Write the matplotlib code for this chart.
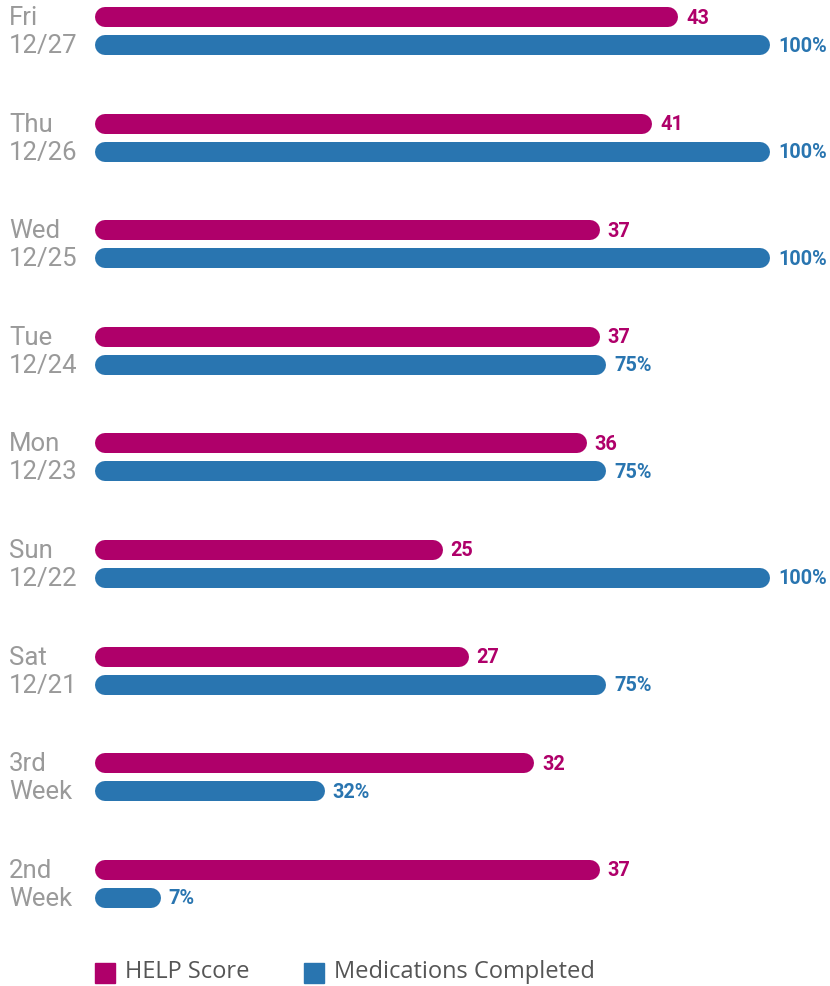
import matplotlib
matplotlib.use("Agg")
import matplotlib.pyplot as plt
from matplotlib.patches import Rectangle

days = ["Fri", "Thu", "Wed", "Tue", "Mon", "Sun", "Sat", "3rd", "2nd"]
dates = ["12/27", "12/26", "12/25", "12/24", "12/23", "12/22", "12/21", "Week", "Week"]
help_score = [43, 41, 37, 37, 36, 25, 27, 32, 37]
meds_pct = [100, 100, 100, 75, 75, 100, 75, 32, 7]
help_max = 50
series_names = ["HELP Score", "Medications Completed"]

MAGENTA = "#AF006A"
BLUE = "#2975B0"
GRAY = "#9A9A9A"

W, H, DPI = 830, 986, 100
fig = plt.figure(figsize=(W / DPI, H / DPI), dpi=DPI)
ax = fig.add_axes([0, 0, 1, 1])
ax.set_axis_off()

# x mapping: 0 -> px 105, 100 -> px 760
px0, scale = 105, 6.55
ax.set_xlim(-px0 / scale, (W - px0) / scale)
# y mapping: group i center -> px 31 + 106.6 i
g0, gstep = 31, 106.6
ax.set_ylim((H - g0) / gstep, -g0 / gstep)

lw_pt = 20 * 72 / DPI
off = 14 / gstep
cap_px = 10

for i in range(len(days)):
    hv = help_score[i] / help_max * 100
    mv = meds_pct[i]
    yh, ym = i - off, i + off
    ax.plot([0, hv], [yh, yh], color=MAGENTA, lw=lw_pt, solid_capstyle="round")
    ax.plot([0, mv], [ym, ym], color=BLUE, lw=lw_pt, solid_capstyle="round")
    ax.annotate(f"{help_score[i]}", xy=(hv, yh), xytext=(cap_px + 8, -1),
                textcoords="offset pixels", va="center", ha="left",
                color=MAGENTA, fontsize=14.3, fontweight="bold", family="Roboto")
    ax.annotate(f"{mv}%", xy=(mv, ym), xytext=(cap_px + 8, -1),
                textcoords="offset pixels", va="center", ha="left",
                color=BLUE, fontsize=14.3, fontweight="bold", family="Roboto")
    ax.annotate(days[i], xy=(-px0 / scale, yh), xytext=(9, -1),
                textcoords="offset pixels", va="center", ha="left",
                color=GRAY, fontsize=18.5, family="Roboto")
    ax.annotate(dates[i], xy=(-px0 / scale, ym), xytext=(9, -1),
                textcoords="offset pixels", va="center", ha="left",
                color=GRAY, fontsize=18.5, family="Roboto")

# legend
def fx(p):
    return p / W

def fy(p):
    return 1 - p / H

fig.patches.append(Rectangle((fx(95), fy(983)), 20 / W, 20 / H, transform=fig.transFigure,
                             color=MAGENTA))
fig.text(fx(125), fy(972), series_names[0], va="center", ha="left", color="#555555",
         fontsize=17, family="Open Sans")
fig.patches.append(Rectangle((fx(304), fy(983)), 20 / W, 20 / H, transform=fig.transFigure,
                             color=BLUE))
fig.text(fx(334), fy(972), series_names[1], va="center", ha="left", color="#555555",
         fontsize=17, family="Open Sans")

fig.savefig("out.png", dpi=DPI)
